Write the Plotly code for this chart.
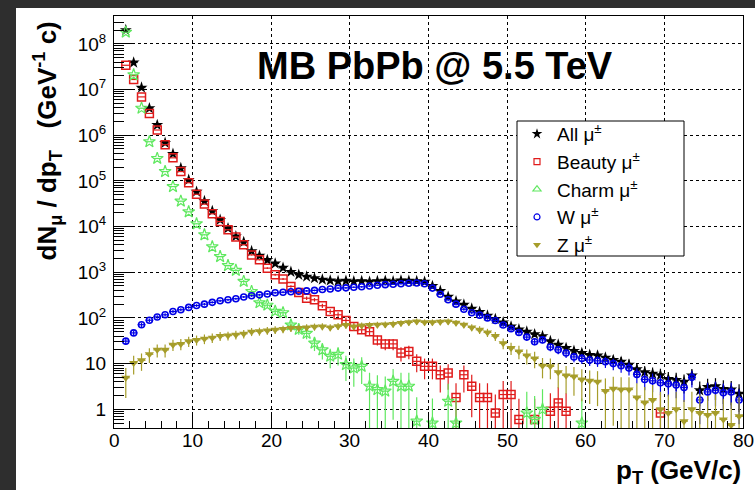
import math
import plotly.graph_objects as go

# bin centres (GeV/c), 1 GeV/c bins from 1 to 80
pt = [i + 0.5 for i in range(1, 80)]

all_mu = [2.0e8, 3.9e7, 1.1e7, 3.9e6, 1.67e6, 6.8e5, 3.9e5, 1.9e5, 1.05e5, 5.8e4,
          3.6e4, 2.2e4, 1.4e4, 9.2e3, 6.1e3, 4.6e3, 2.9e3, 2.3e3, 1.85e3, 1.55e3,
          1250, 1020, 880, 800, 740, 690, 660, 640, 650, 630,
          640, 620, 640, 650, 630, 660, 650, 640, 620, 500,
          390, 290, 230, 195, 160, 135, 112, 95, 80, 65,
          56, 50, 44, 40, 31, 26, 22, 19, 17, 15.5,
          15, 13.5, 12, 11, 9.5, 7.5, 6.5, 6.0, 5.6, 4.6,
          4.4, 4.0, 5.5, 2.6, 3.1, 3.2, 2.8, 2.7, 2.2]

beauty = [3.4e7, 1.66e7, 6.9e6, 3.0e6, 1.3e6, 6.2e5, 3.2e5, 1.6e5, 9.1e4, 5.1e4,
          3.1e4, 1.9e4, 1.29e4, 8.5e3, 5.9e3, 4.0e3, 2.4e3, 1.88e3, 1.23e3, 880,
          710, 490, 360, 270, 250, 185, 138, 117, 88, 65,
          55, 50, 33, 27, 27, 17, 18.5, 11.2, 8.7, 8.7,
          5.7, 6.2, 1.8, 5.7, 3.2, 1.8, 1.8, 0.83, 2.1, 2.1,
          0.6, None, 0.6, None, 0.9, 1.38, 0.9, None, None, None,
          None, None, None, None, None, None, None, None, 0.83, None,
          None, None, None, None, None, None, None, None, None]

charm = [1.8e8, 2.1e7, 3.9e6, 7.2e5, 3.1e5, 1.6e5, 7.5e4, 3.6e4, 2.1e4, 1.15e4,
         6.6e3, 3.6e3, 2.2e3, 1.4e3, 1.1e3, 630, 380, 215, 190, 140,
         130, 70, 56, 46, 28, 20, 14.5, 16, 9.5, 8,
         8.7, 3.2, 2.7, 2.5, 4.1, 3.2, 3.2, 0.55, None, 0.5,
         None, 1.5, 0.5, None, None, None, None, None, None, None,
         None, 0.83, 0.6, 1.0, None, None, None, None, 0.5, None,
         None, None, None, None, None, None, None, None, None, None,
         None, None, None, None, None, None, None, None, None]

w_mu = [31, 47, 71, 89, 105, 117, 138, 151, 170, 187,
        200, 219, 237, 250, 263, 288, 306, 320, 335, 355,
        365, 375, 385, 390, 400, 420, 430, 450, 455, 470,
        480, 500, 520, 535, 545, 560, 575, 580, 560, 450,
        330, 250, 200, 155, 130, 115, 100, 88, 70, 58,
        48, 38, 30, 33, 23, 20, 17, 14, 13, 12,
        11.5, 11, 10, 9, 8, 5.8, 4.5, 4.2, 3.8, 3.6,
        3.4, 3.0, 5.0, 1.6, 2.4, 2.6, 2.3, 2.4, 1.6]

z_mu = [4.9, 10.3, 11.8, 16, 20, 20, 26, 27, 31, 33,
        35, 37, 40, 41, 43, 45, 50, 51, 53, 55,
        57, 60, 60, 62, 64, 65, 62, 66, 70, 65,
        68, 70, 71, 72, 74, 77, 80, 84, 80, 80,
        82, 84, 78, 71, 62, 55, 48, 40, 28, 22,
        18.5, 15, 13, 9, 8.7, 6.5, 5.5, 5.2, 4.5, 4.2,
        4.0, 2.5, 2.8, 2.7, 2.7, 1.8, 1.4, 1.6, 1.0, 0.83,
        1.0, 0.55, 1.0, 0.83, 0.75, 0.83, 0.6, 0.45, 0.7]

# statistical weight per series (error = sqrt(weight * value))
stat_weight = {"all": 0.8, "beauty": 2.0, "charm": 3.0, "w": 0.8, "z": 2.0}

x_tick_vals = [0, 10, 20, 30, 40, 50, 60, 70, 80]
y_tick_vals = [1, 10, 1e2, 1e3, 1e4, 1e5, 1e6, 1e7, 1e8]
y_tick_text = ["1", "10", "10<sup>2</sup>", "10<sup>3</sup>", "10<sup>4</sup>",
               "10<sup>5</sup>", "10<sup>6</sup>", "10<sup>7</sup>", "10<sup>8</sup>"]

FONT = "Liberation Sans, Arial, sans-serif"

W, H = 755, 490
ML, MR, MT, MB = 114, 12, 16, 62
PW, PH = W - ML - MR, H - MT - MB


def px_x(p):
    return (p - ML) / PW


def px_y(p):
    return (H - MB - p) / PH


def errs(vals, w):
    return [math.sqrt(w * v) if v is not None else None for v in vals]


series = [
    ("All μ<sup>±</sup>", all_mu, "all", "black", "star", 9, 0,
     "star", 8),
    ("Beauty μ<sup>±</sup>", beauty, "beauty", "#e01b1b", "square-open", 8, 1.5,
     "square-open", 6),
    ("Charm μ<sup>±</sup>", charm, "charm", "#5fe85f", "star-open", 9, 1.2,
     "triangle-up-open", 7),
    ("W μ<sup>±</sup>", w_mu, "w", "#0000e6", "circle-open", 6, 1.6,
     "circle-open", 6),
    ("Z μ<sup>±</sup>", z_mu, "z", "#a69d2a", "triangle-down", 8, 0,
     "triangle-down", 7),
]

fig = go.Figure()

for name, vals, key, color, sym, size, lw, lsym, lsize in series:
    e = errs(vals, stat_weight[key])
    fig.add_trace(go.Scatter(
        x=pt, y=vals, mode="markers", showlegend=False, name=name,
        marker=dict(symbol=sym, size=size, color=color,
                    line=dict(color=color, width=lw)),
        error_y=dict(type="data", array=e, color=color, thickness=1.2, width=0),
        error_x=dict(type="constant", value=0.5, color=color, thickness=1.2, width=0),
    ))

for name, vals, key, color, sym, size, lw, lsym, lsize in series:
    fig.add_trace(go.Scatter(
        x=[None], y=[None], mode="markers", name=name, showlegend=True,
        marker=dict(symbol=lsym, size=lsize, color=color,
                    line=dict(color=color, width=1.2 if "open" in lsym else 0)),
    ))

# white canvas on dark frame
fig.add_shape(type="rect", xref="paper", yref="paper",
              x0=px_x(16), x1=px_x(W + 20), y0=px_y(H + 20), y1=px_y(8),
              fillcolor="white", line=dict(width=0), layer="below")
# title pave hides the grid behind it
fig.add_shape(type="rect", xref="paper", yref="paper",
              x0=px_x(230), x1=px_x(630), y0=px_y(92), y1=px_y(42),
              fillcolor="white", line=dict(width=0), layer="between")
# legend box
fig.add_shape(type="rect", xref="paper", yref="paper",
              x0=px_x(517), x1=px_x(684), y0=px_y(256), y1=px_y(121),
              fillcolor="white", line=dict(width=1, color="black"), layer="above")

# x tick labels (placed close under the axis, as in the original)
for v in x_tick_vals:
    fig.add_annotation(text=str(v), xref="x", yref="paper", x=v, y=px_y(440),
                       xanchor="center", yanchor="middle", showarrow=False,
                       font=dict(family=FONT, size=19, color="black"))

fig.add_annotation(text="MB PbPb @ 5.5 TeV", xref="paper", yref="paper",
                   x=px_x(435), y=px_y(66), xanchor="center", yanchor="middle",
                   showarrow=False,
                   font=dict(family=FONT, size=38, color="black", weight="bold"))
fig.add_annotation(text="dN<sub>μ</sub> / dp<sub>T</sub>   (GeV<sup>-1</sup> c)",
                   xref="paper", yref="paper", x=px_x(47), y=px_y(20),
                   xanchor="center", yanchor="top", textangle=-90,
                   showarrow=False,
                   font=dict(family=FONT, size=26, color="black", weight="bold"))
fig.add_annotation(text="p<sub>T</sub> (GeV/c)", xref="paper", yref="paper",
                   x=px_x(743), y=px_y(471), xanchor="right", yanchor="middle",
                   showarrow=False,
                   font=dict(family=FONT, size=26, color="black", weight="bold"))

fig.update_layout(
    width=W, height=H,
    margin=dict(l=ML, r=MR, t=MT, b=MB, autoexpand=False),
    paper_bgcolor="#2e2e2e", plot_bgcolor="white",
    font=dict(family=FONT, color="black"),
    legend=dict(x=px_x(517), y=px_y(115), xanchor="left", yanchor="top",
                bgcolor="rgba(0,0,0,0)", borderwidth=0,
                font=dict(family=FONT, size=19, color="black"),
                itemwidth=30),
    xaxis=dict(range=[0, 80], tickvals=x_tick_vals, showticklabels=False,
               automargin=False,
               ticks="inside", ticklen=14, tickcolor="black", tickwidth=1,
               minor=dict(dtick=2, ticks="inside", ticklen=7, tickcolor="black",
                          showgrid=False),
               showline=True, linecolor="black", linewidth=1, mirror=True,
               showgrid=True, gridcolor="black", gridwidth=1, griddash="3px,3px",
               zeroline=False),
    yaxis=dict(type="log", range=[-0.41, 8.61], automargin=False,
               tickvals=y_tick_vals, ticktext=y_tick_text,
               ticks="inside", ticklen=20, tickcolor="black", tickwidth=1,
               minor=dict(dtick="D1", ticks="inside", ticklen=10, tickcolor="black",
                          showgrid=False),
               showline=True, linecolor="black", linewidth=1, mirror=True,
               showgrid=True, gridcolor="black", gridwidth=1, griddash="3px,3px",
               zeroline=False,
               tickfont=dict(family=FONT, size=19, color="black"),
               ticklabelstandoff=3),
)

fig.write_html(
    "out.html",
    config={"displayModeBar": False},
    post_script="document.body.style.margin='0';document.body.style.overflow='hidden';",
)
